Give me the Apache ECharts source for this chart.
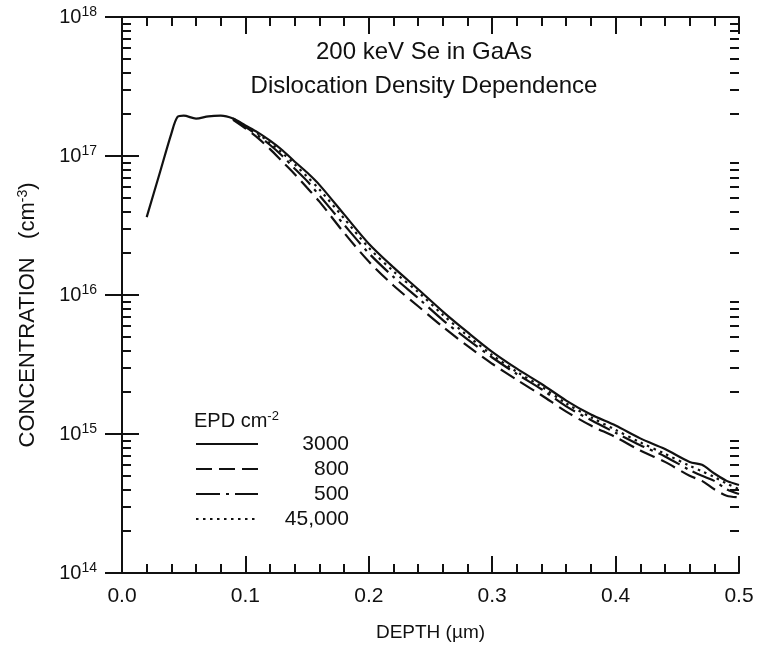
<!DOCTYPE html>
<html>
<head>
<meta charset="utf-8">
<script src="https://cdn.jsdelivr.net/npm/echarts@6/dist/echarts.min.js"></script>
<style>
  html, body { margin: 0; padding: 0; background: #fff; }
  #chart { width: 763px; height: 658px; }
</style>
</head>
<body>
<div id="chart"></div>
<script>
// depth in µm
const depth = [0.02, 0.03, 0.04, 0.045, 0.05, 0.06, 0.07, 0.08, 0.09, 0.10, 0.11, 0.12, 0.13, 0.14, 0.15, 0.16, 0.18, 0.20,
  0.22, 0.24, 0.26, 0.28, 0.30, 0.32, 0.34, 0.36, 0.38, 0.40, 0.42, 0.44, 0.46, 0.47, 0.48, 0.49, 0.50]
// concentration, cm^-3
const epd3000 = [3.63e16, 7.24e16, 1.45e17, 1.91e17, 1.95e17, 1.86e17, 1.93e17, 1.95e17, 1.86e17, 1.66e17, 1.48e17, 1.29e17,
  1.10e17, 9.1e16, 7.6e16, 6.2e16, 3.8e16, 2.34e16, 1.58e16, 1.10e16, 7.6e15, 5.4e15, 3.9e15, 2.95e15, 2.29e15, 1.74e15,
  1.38e15, 1.15e15, 9.3e14, 7.8e14, 6.3e14, 6.0e14, 5.2e14, 4.6e14, 4.3e14]
// other EPDs start where they split off from the 3000 curve (index 8 = 0.09 µm)
const epd800 = [1.82e17, 1.58e17, 1.35e17, 1.12e17, 9.1e16, 7.4e16, 5.9e16, 4.7e16, 2.8e16, 1.74e16, 1.17e16, 8.3e15, 5.9e15,
  4.3e15, 3.2e15, 2.45e15, 1.9e15, 1.45e15, 1.15e15, 9.5e14, 7.6e14, 6.3e14, 5.0e14, 4.6e14, 4.0e14, 3.6e14, 3.5e14]
const epd500 = [1.86e17, 1.62e17, 1.41e17, 1.20e17, 1.0e17, 8.1e16, 6.6e16, 5.2e16, 3.2e16, 2.0e16, 1.35e16, 9.5e15, 6.6e15,
  4.8e15, 3.55e15, 2.7e15, 2.1e15, 1.58e15, 1.26e15, 1.02e15, 8.3e14, 6.9e14, 5.5e14, 5.0e14, 4.6e14, 4.0e14, 3.7e14]
const epd45000 = [1.86e17, 1.64e17, 1.45e17, 1.24e17, 1.05e17, 8.7e16, 7.1e16, 5.75e16, 3.55e16, 2.19e16, 1.48e16, 1.05e16,
  7.2e15, 5.1e15, 3.7e15, 2.8e15, 2.19e15, 1.66e15, 1.32e15, 1.07e15, 8.7e14, 7.2e14, 5.9e14, 5.4e14, 4.9e14, 4.4e14, 4.0e14]

const decades = [14, 15, 16, 17, 18]
const minorSteps = [2, 3, 4, 5, 6, 7, 8, 9]

const pair = (xs, ys, from) => ys.map((v, i) => [xs[i + from], v])

const minorValues = []
decades.slice(0, -1).forEach(d => minorSteps.forEach(m => minorValues.push(m * Math.pow(10, d))))

const ink = '#111'
const font = 'Liberation Sans, Arial, sans-serif'

const chart = echarts.init(document.getElementById('chart'))

const xBase = {
  type: 'value', min: 0, max: 0.5, interval: 0.1,
  axisLine: { show: true, lineStyle: { color: ink, width: 2 } },
  axisTick: { show: true, inside: true, length: 17, lineStyle: { color: ink, width: 2 } },
  minorTick: { show: true, splitNumber: 5, length: 9, lineStyle: { color: ink, width: 2 } },
  splitLine: { show: false }
}
const yBase = {
  type: 'log', logBase: 10, min: 1e14, max: 1e18,
  axisLine: { show: true, lineStyle: { color: ink, width: 2 } },
  axisTick: { show: true, inside: true, length: 17, lineStyle: { color: ink, width: 2 } },
  splitLine: { show: false }
}
const yMinor = {
  ...yBase,
  offset: 0,
  axisLine: { show: false },
  axisLabel: { show: false },
  axisTick: { show: true, inside: true, length: 9, customValues: minorValues, lineStyle: { color: ink, width: 2 } }
}

const option = {
  backgroundColor: '#fff',
  animation: false,
  textStyle: { fontFamily: font },
  title: [{
    text: '200 keV Se in GaAs\nDislocation Density Dependence',
    left: 419, top: 30, textAlign: 'center',
    textStyle: { fontSize: 24, fontWeight: 'normal', color: ink, lineHeight: 34, fontFamily: font }
  }, {
    text: 'EPD cm{s|-2}',
    left: 189, top: 405,
    textStyle: {
      fontSize: 20, fontWeight: 'normal', color: ink, fontFamily: font,
      rich: { s: { fontSize: 13, color: ink, padding: [0, 0, 10, 0], fontFamily: font } }
    }
  }],
  legend: {
    orient: 'vertical', left: 190, top: 428,
    itemWidth: 62, itemHeight: 14, itemGap: 3,
    itemStyle: { opacity: 0 },
    data: ['3000', '800', '500', '45,000'],
    formatter: name => '{r|' + name + '}',
    textStyle: {
      fontSize: 21, color: ink, fontFamily: font, lineHeight: 22,
      rich: { r: { fontSize: 21, color: ink, width: 86, align: 'right', fontFamily: font } }
    }
  },
  grid: { left: 122, right: 24, top: 17, bottom: 85 },
  xAxis: [{
    ...xBase,
    position: 'bottom',
    name: 'DEPTH (µm)', nameLocation: 'middle', nameGap: 50,
    nameTextStyle: { fontSize: 19, color: ink, fontFamily: font },
    axisLabel: { show: true, margin: 13, fontSize: 21, color: ink, formatter: v => v.toFixed(1) }
  }, {
    ...xBase,
    position: 'top',
    axisLabel: { show: false }
  }],
  yAxis: [{
    ...yBase,
    position: 'left',
    name: 'CONCENTRATION   (cm{s|-3})', nameLocation: 'middle', nameGap: 82, nameRotate: 90,
    nameTextStyle: {
      fontSize: 22, color: ink, fontFamily: font, padding: [0, 40, 0, 0],
      rich: { s: { fontSize: 14, color: ink, padding: [0, 0, 10, 0], fontFamily: font } }
    },
    axisLabel: {
      show: true, margin: 25, color: ink,
      formatter: v => '{b|10}{s|' + Math.round(Math.log10(v)) + '}',
      rich: {
        b: { fontSize: 20, color: ink, fontFamily: font },
        s: { fontSize: 14, color: ink, padding: [0, 0, 10, 0], fontFamily: font }
      }
    }
  }, {
    ...yBase,
    position: 'right',
    axisLabel: { show: false }
  },
  { ...yMinor, position: 'left' },
  { ...yMinor, position: 'right' }],
  series: [{
    name: '3000', type: 'line', xAxisIndex: 0, yAxisIndex: 0,
    data: pair(depth, epd3000, 0), showSymbol: false, symbol: 'none', smooth: 0.3,
    lineStyle: { color: ink, width: 2.2, type: 'solid' }, itemStyle: { color: ink }
  }, {
    name: '800', type: 'line', xAxisIndex: 0, yAxisIndex: 0,
    data: pair(depth, epd800, 8), showSymbol: false, symbol: 'none', smooth: 0.3,
    lineStyle: { color: ink, width: 2.2, type: [16, 7] }, itemStyle: { color: ink }
  }, {
    name: '500', type: 'line', xAxisIndex: 0, yAxisIndex: 0,
    data: pair(depth, epd500, 8), showSymbol: false, symbol: 'none', smooth: 0.3,
    lineStyle: { color: ink, width: 2.2, type: [24, 6, 3, 6] }, itemStyle: { color: ink }
  }, {
    name: '45,000', type: 'line', xAxisIndex: 0, yAxisIndex: 0,
    data: pair(depth, epd45000, 8), showSymbol: false, symbol: 'none', smooth: 0.3,
    lineStyle: { color: ink, width: 2.2, type: [2.5, 4.5] }, itemStyle: { color: ink }
  }]
}

chart.setOption(option)
</script>
</body>
</html>
